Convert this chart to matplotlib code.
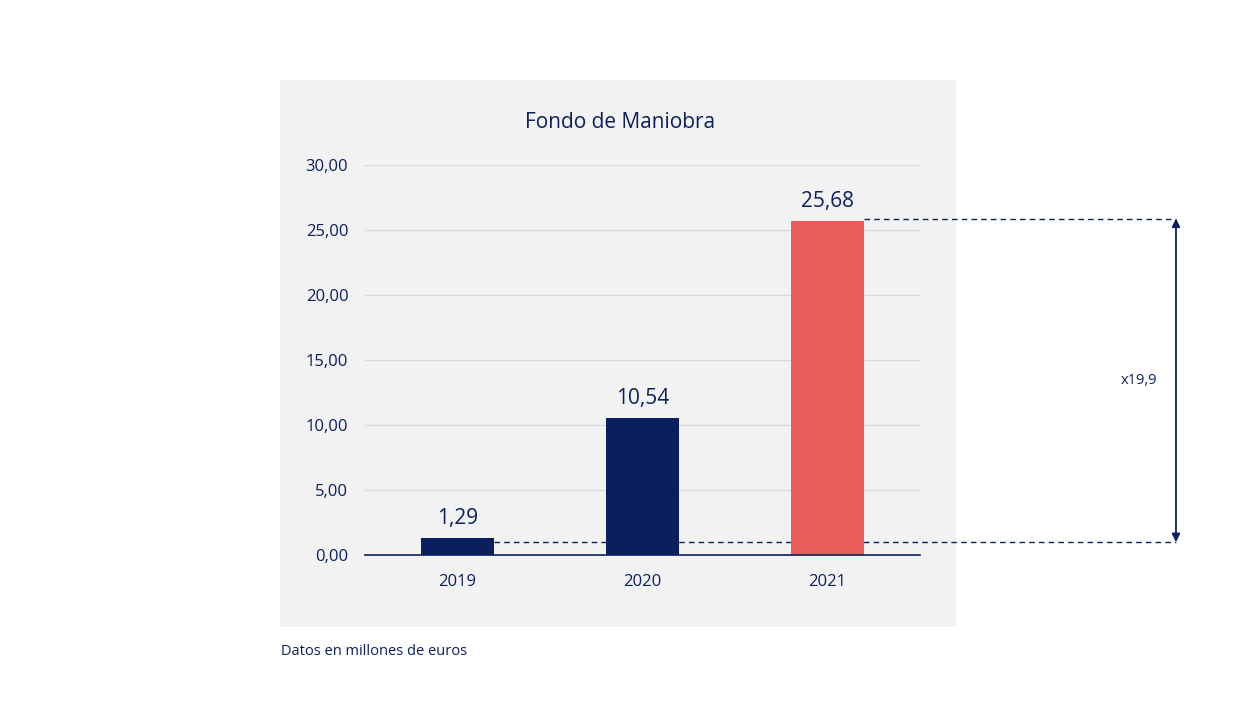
import matplotlib.pyplot as plt
from matplotlib.patches import Rectangle

years = ['2019', '2020', '2021']
values = [1.29, 10.54, 25.68]
value_labels = ['1,29', '10,54', '25,68']
ratio_label = 'x19,9'

navy = '#0B1F5E'
red = '#EB5C5C'
bar_colors = [navy, navy, red]

plt.rcParams['font.family'] = ['Open Sans', 'DejaVu Sans']

fig = plt.figure(figsize=(12.43, 7.27), dpi=100)
fig.patch.set_facecolor('white')

# grey panel behind the chart
fig.add_artist(Rectangle((0.2253, 0.1376), 0.5438, 0.7524, transform=fig.transFigure,
                         facecolor='#F2F2F2', edgecolor='none', zorder=0))

ax = fig.add_axes([0.2936, 0.2366, 0.4465, 0.5365])
ax.set_facecolor('none')
x = range(len(years))
ax.bar(x, values, width=0.395, color=bar_colors, zorder=3)
ax.set_xlim(-0.5, 2.5)
ax.set_ylim(0, 30)
ax.set_yticks(range(0, 31, 5))
ax.set_yticklabels(['%d,00' % v for v in range(0, 31, 5)], fontsize=12, color=navy)
ax.set_xticks(list(x))
ax.set_xticklabels(years, fontsize=12, color=navy)
ax.tick_params(length=0, pad=14)
ax.tick_params(axis='y', pad=12)
ax.grid(axis='y', color='#D9D9D9', linewidth=1, zorder=0)
for s in ['top', 'right', 'left']:
    ax.spines[s].set_visible(False)
ax.spines['bottom'].set_color(navy)
ax.spines['bottom'].set_linewidth(1.2)
ax.spines['bottom'].set_zorder(4)

for i, v in enumerate(values):
    ax.text(i, v + 0.7, value_labels[i], ha='center', va='bottom', fontsize=15, color=navy)

fig.text(0.499, 0.831, 'Fondo de Maniobra', fontsize=15, color=navy, ha='center', va='center')

# comparison guide lines and arrow
x_arrow = 3.884
low_y = values[0] - 0.3
high_y = values[2] + 0.2
ax.plot([0.1975, x_arrow], [low_y, low_y], ls=(0, (4, 3)), color=navy,
        lw=1, clip_on=False, zorder=2)
ax.plot([2.1975, x_arrow], [high_y, high_y], ls=(0, (4, 3)), color=navy,
        lw=1, clip_on=False, zorder=2)
ax.annotate('', xy=(x_arrow, high_y), xytext=(x_arrow, low_y),
            arrowprops=dict(arrowstyle='<|-|>', color=navy, lw=1.3,
                            mutation_scale=12, shrinkA=0, shrinkB=0),
            annotation_clip=False)
ax.text(x_arrow - 0.2, (low_y + high_y) / 2, ratio_label, ha='center', va='center',
        fontsize=10.5, color=navy, clip_on=False)

fig.text(0.226, 0.099, 'Datos en millones de euros', fontsize=10.5, color=navy, ha='left')

fig.savefig('out.png', dpi=100)
